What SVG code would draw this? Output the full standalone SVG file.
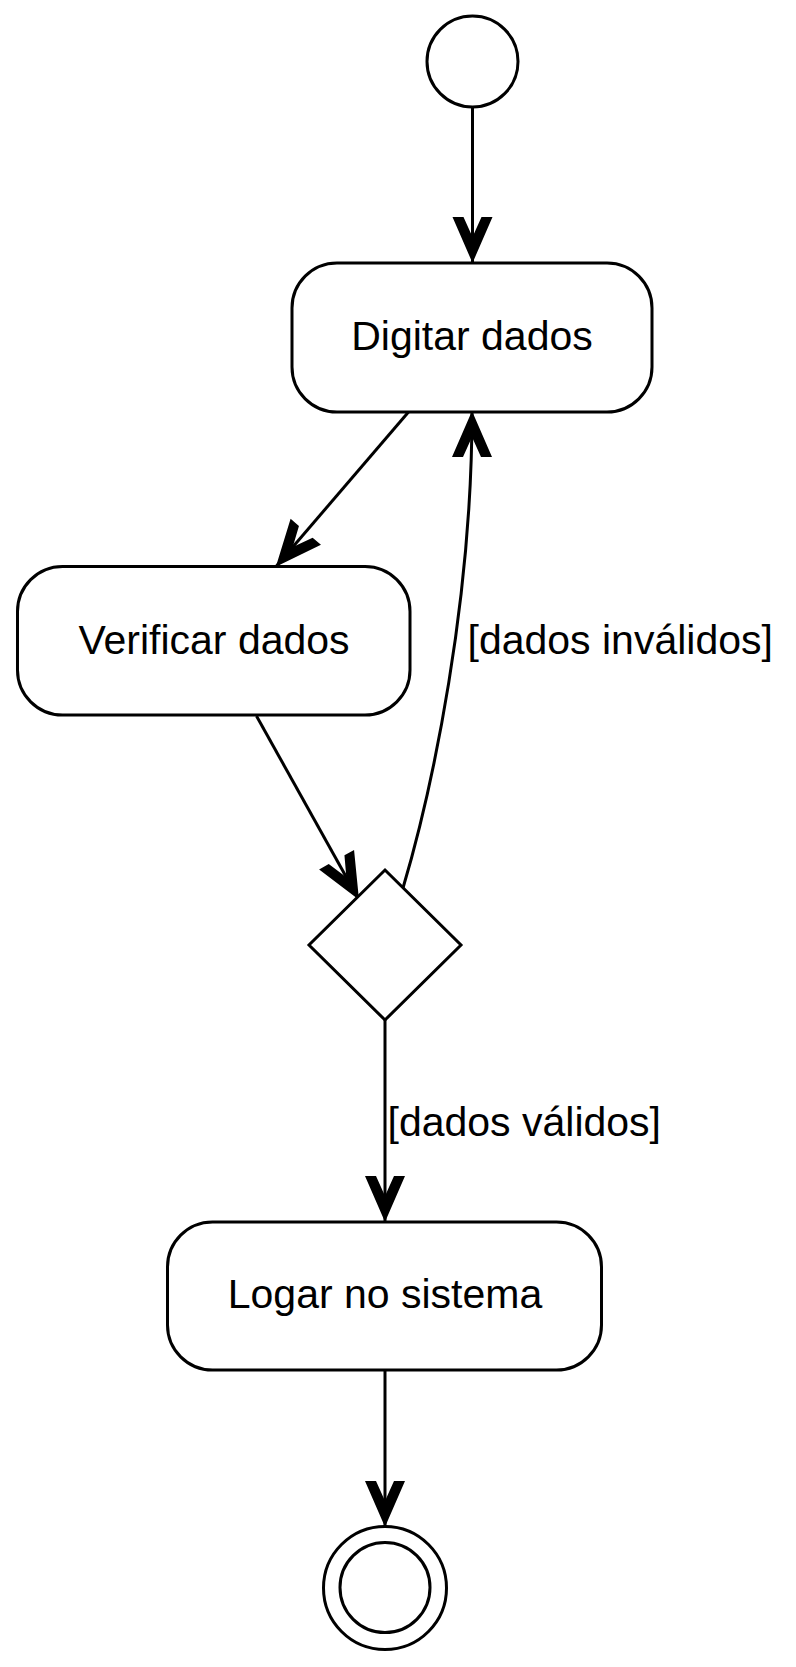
<svg xmlns="http://www.w3.org/2000/svg" width="796" height="1667" viewBox="0 0 796 1667">
  <style>
    .shape { fill: #ffffff; stroke: #000000; stroke-width: 3; }
    .edge { fill: none; stroke: #000000; stroke-width: 3; }
    .label { font-family: "Liberation Sans", Arial, Helvetica, sans-serif; font-size: 41px; fill: #000000; }
    .center { text-anchor: middle; }
  </style>
  <defs>
    <marker id="arrow" markerUnits="userSpaceOnUse" markerWidth="50" markerHeight="44" viewBox="-47 -22 50 44" refX="0" refY="0" orient="auto" overflow="visible">
      <path d="M1,0 L-45,-20 L-45,-9 L-25,0 L-45,9 L-45,20 Z" fill="#000000"/>
    </marker>
  </defs>
  <rect width="796" height="1667" fill="#ffffff"/>

  <g id="connectors">
    <path class="edge" d="M472.5,107 L472.5,262" marker-end="url(#arrow)"/>
    <path class="edge" d="M408.5,412 L276.5,566" marker-end="url(#arrow)"/>
    <path class="edge" d="M256.5,716 L358.5,899" marker-end="url(#arrow)"/>
    <path class="edge" d="M403,888 C433,787 472,600 472,412" marker-end="url(#arrow)"/>
    <path class="edge" d="M385,1020 L385,1221" marker-end="url(#arrow)"/>
    <path class="edge" d="M385,1370 L385,1526" marker-end="url(#arrow)"/>
    <text class="label" x="467.5" y="654">[dados inválidos]</text>
    <text class="label" x="387.5" y="1136">[dados válidos]</text>
  </g>

  <g id="start">
    <circle class="shape" cx="472.5" cy="61.5" r="45.5"/>
  </g>

  <g id="digitar-dados">
    <rect class="shape" x="292" y="263" width="360" height="149" rx="45" ry="45"/>
    <text class="label center" x="472" y="350">Digitar dados</text>
  </g>

  <g id="verificar-dados">
    <rect class="shape" x="17.5" y="566.5" width="392.5" height="148.5" rx="45" ry="45"/>
    <text class="label center" x="214" y="654">Verificar dados</text>
  </g>

  <g id="decisao">
    <polygon class="shape" points="385,870 461,945 385,1020 309,945"/>
  </g>

  <g id="logar-no-sistema">
    <rect class="shape" x="167.5" y="1222" width="434" height="148" rx="45" ry="45"/>
    <text class="label center" x="385" y="1308">Logar no sistema</text>
  </g>

  <g id="end">
    <circle class="shape" cx="385" cy="1588" r="61.5"/>
    <circle class="shape" cx="385" cy="1587.5" r="45"/>
  </g>
</svg>
